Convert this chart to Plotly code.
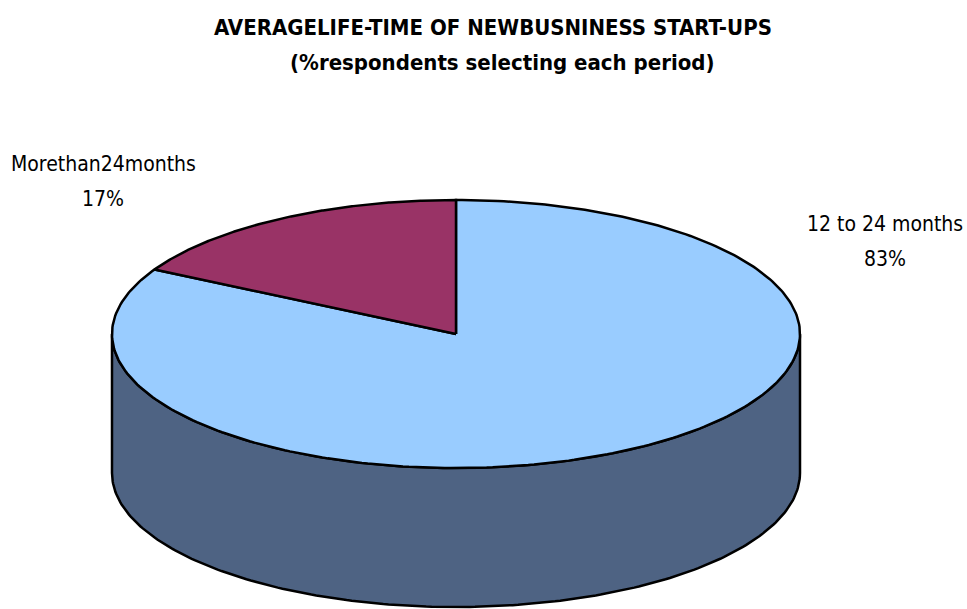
import numpy as np
import plotly.graph_objects as go

# Survey result: average life-time of new business start-ups
categories = ["12 to 24 months", "Morethan24months"]
shares = [83, 17]  # % of respondents
label_texts = ["12 to 24 months", "Morethan24months"]
title_lines = ["AVERAGELIFE-TIME OF NEWBUSNINESS START-UPS",
               "(%respondents selecting each period)"]

top_colors = ["#99CCFF", "#993366"]
side_colors = ["#4E6383", "#5A2340"]

W, H = 967, 609
# pie geometry in page pixels
CX, CY = 456, 334
RA, RB = 344, 134     # ellipse radii
DEPTH = 139           # height of the cylinder wall
EDGE = 2.5            # outline width

FONT = "DejaVu Sans Condensed, Liberation Sans Narrow, Arial Narrow, sans-serif"


def pt(theta, drop=0.0):
    """Point on the pie rim; theta in radians clockwise from 12 o'clock."""
    return CX + RA * np.sin(theta), CY - RB * np.cos(theta) + drop


fig = go.Figure()

total = float(sum(shares))
bounds = np.cumsum([0] + shares) / total * 2 * np.pi

# visible outer walls (front half: theta between pi/2 and 3pi/2)
for i, col in enumerate(side_colors):
    lo = max(bounds[i], np.pi / 2)
    hi = min(bounds[i + 1], 3 * np.pi / 2)
    if hi <= lo:
        continue
    t = np.linspace(lo, hi, 200)
    xt, yt = pt(t)
    xb, yb = pt(t[::-1], DEPTH)
    fig.add_trace(go.Scatter(
        x=np.concatenate([xt, xb, xt[:1]]),
        y=np.concatenate([yt, yb, yt[:1]]),
        mode="lines", fill="toself", fillcolor=col,
        line=dict(color="black", width=EDGE),
        hoverinfo="skip", showlegend=False))

# top faces of the slices
for i, col in enumerate(top_colors):
    t = np.linspace(bounds[i], bounds[i + 1], 300)
    xa, ya = pt(t)
    fig.add_trace(go.Scatter(
        x=np.concatenate([[CX], xa, [CX]]),
        y=np.concatenate([[CY], ya, [CY]]),
        mode="lines", fill="toself", fillcolor=col,
        line=dict(color="black", width=EDGE),
        name=categories[i], hoverinfo="name", showlegend=False))

# slice labels: category name over percentage
label_pos = [(885, 224), (103, 164)]
for i, (lx, ly) in enumerate(label_pos):
    fig.add_annotation(x=lx, y=ly, text=label_texts[i], showarrow=False,
                       xanchor="center", yanchor="middle",
                       font=dict(family=FONT, size=21, color="black"))
    fig.add_annotation(x=lx, y=ly + 35, text=f"{shares[i]}%", showarrow=False,
                       xanchor="center", yanchor="middle",
                       font=dict(family=FONT, size=21, color="black"))

# two-line bold title
for j, (tx, ty) in enumerate([(493, 27), (502, 62)]):
    fig.add_annotation(x=tx, y=ty, text=f"<b>{title_lines[j]}</b>", showarrow=False,
                       xanchor="center", yanchor="middle",
                       font=dict(family=FONT, size=22, color="black"))

fig.update_layout(
    width=W, height=H,
    margin=dict(l=0, r=0, t=0, b=0),
    paper_bgcolor="white", plot_bgcolor="white",
    xaxis=dict(range=[0, W], visible=False, fixedrange=True),
    yaxis=dict(range=[H, 0], visible=False, fixedrange=True),
)

fig.write_html("out.html")
